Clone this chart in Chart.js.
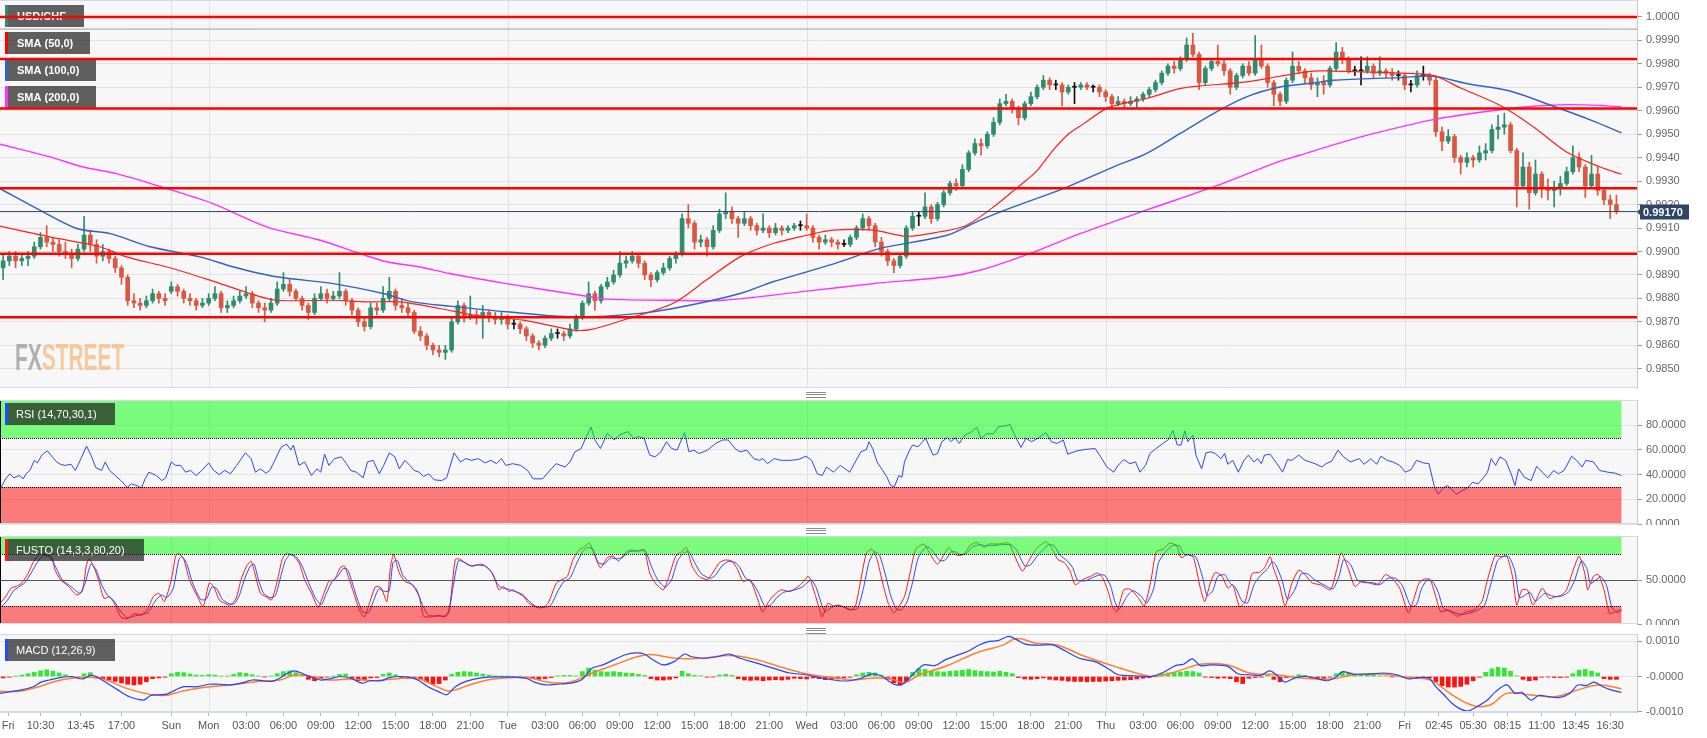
<!DOCTYPE html>
<html>
<head>
<meta charset="utf-8">
<title>USD/CHF</title>
<script src="https://cdn.jsdelivr.net/npm/chart.js@4.4.0/dist/chart.umd.min.js"></script>
<style>
  html, body { margin: 0; padding: 0; background: #fff; }
  #wrap { position: relative; width: 1707px; height: 738px; overflow: hidden; }
  .pane { position: absolute; left: 0; width: 1707px; }
  .pane canvas { display: block; }
  .grip { position: absolute; left: 806px; width: 20px; height: 4px; border-top: 1px solid #8a8a8a; border-bottom: 1px solid #8a8a8a; }
  .grip:after { content: ''; position: absolute; left: 0; right: 0; top: 1px; border-top: 1px solid #8a8a8a; }
</style>
</head>
<body>
<div id="wrap">
  <div class="pane" style="top:0;height:389px"><canvas id="cMain"></canvas></div>
  <div class="grip" style="top:392px"></div>
  <div class="pane" style="top:400px;height:125px"><canvas id="cRsi"></canvas></div>
  <div class="grip" style="top:528px"></div>
  <div class="pane" style="top:536px;height:89px"><canvas id="cSto"></canvas></div>
  <div class="grip" style="top:628px"></div>
  <div class="pane" style="top:634px;height:104px"><canvas id="cMacd"></canvas></div>
</div>
<script>
// ---- data (30 min candles, x = slot index since Fri 07:30, weekend removed) ----
const timeTicks = [[1.3,'Fri'],[6.5,'10:30'],[13,'13:45'],[19.5,'17:00'],[27.5,'Sun'],[33.5,'Mon'],[39.5,'03:00'],[45.5,'06:00'],[51.5,'09:00'],[57.5,'12:00'],[63.5,'15:00'],[69.5,'18:00'],[75.5,'21:00'],[81.5,'Tue'],[87.5,'03:00'],[93.5,'06:00'],[99.5,'09:00'],[105.5,'12:00'],[111.5,'15:00'],[117.5,'18:00'],[123.5,'21:00'],[129.5,'Wed'],[135.5,'03:00'],[141.5,'06:00'],[147.5,'09:00'],[153.5,'12:00'],[159.5,'15:00'],[165.5,'18:00'],[171.5,'21:00'],[177.5,'Thu'],[183.5,'03:00'],[189.5,'06:00'],[195.5,'09:00'],[201.5,'12:00'],[207.5,'15:00'],[213.5,'18:00'],[219.5,'21:00'],[225.5,'Fri'],[231,'02:45'],[236.5,'05:30'],[242,'08:15'],[247.5,'11:00'],[253,'13:45'],[258.5,'16:30']];
const dayLines = [27.5, 33.5, 81.5, 129.5, 177.5, 225.5];

const priceTicks = [0.9850,0.9860,0.9870,0.9880,0.9890,0.9900,0.9910,0.9920,0.9930,0.9940,0.9950,0.9960,0.9970,0.9980,0.9990,1.0000];
const levels = [1.0000, 0.9982, 0.9961, 0.9927, 0.9899, 0.9872];
const periodHigh = 0.99948;
const lastPrice = 0.99170;

// [open, high, low, close]
const ohlc = [
[0.9893,0.9899,0.9888,0.9896],[0.9896,0.9900,0.9894,0.9898],[0.9898,0.9900,0.9893,0.9896],[0.9896,0.9899,0.9894,0.9897],[0.9897,0.9900,0.9894,0.9898],
[0.9898,0.9904,0.9897,0.9902],[0.9902,0.9908,0.9901,0.9906],[0.9906,0.9911,0.9902,0.9904],[0.9904,0.9906,0.9900,0.9903],[0.9903,0.9905,0.9898,0.9900],
[0.9900,0.9904,0.9897,0.9899],[0.9899,0.9901,0.9893,0.9897],[0.9897,0.9903,0.9896,0.9901],[0.9901,0.9915,0.9900,0.9907],[0.9907,0.9909,0.9900,0.9903],
[0.9903,0.9905,0.9895,0.9898],[0.9898,0.9903,0.9896,0.9900],[0.9900,0.9901,0.9895,0.9897],[0.9897,0.9898,0.9891,0.9893],[0.9893,0.9894,0.9886,0.9889],
[0.9889,0.9890,0.9877,0.9879],[0.9879,0.9882,0.9876,0.9878],[0.9878,0.9880,0.9875,0.9877],[0.9877,0.9881,0.9876,0.9879],[0.9879,0.9884,0.9878,0.9882],
[0.9882,0.9883,0.9878,0.9880],[0.9880,0.9882,0.9877,0.9879],[0.9883,0.9887,0.9882,0.9885],[0.9885,0.9886,0.9881,0.9883],[0.9883,0.9884,0.9878,0.9880],
[0.9880,0.9882,0.9877,0.9879],[0.9879,0.9880,0.9875,0.9877],[0.9877,0.9880,0.9876,0.9878],[0.9878,0.9882,0.9877,0.9880],[0.9880,0.9885,0.9879,0.9882],
[0.9882,0.9883,0.9874,0.9876],[0.9876,0.9879,0.9874,0.9877],[0.9877,0.9881,0.9876,0.9879],[0.9879,0.9883,0.9878,0.9881],[0.9881,0.9885,0.9880,0.9882],
[0.9882,0.9883,0.9876,0.9878],[0.9878,0.9879,0.9874,0.9876],[0.9876,0.9878,0.9870,0.9875],[0.9875,0.9880,0.9874,0.9878],[0.9878,0.9887,0.9877,0.9884],
[0.9884,0.9891,0.9883,0.9886],[0.9886,0.9888,0.9881,0.9883],[0.9883,0.9884,0.9879,0.9880],[0.9880,0.9881,0.9875,0.9877],[0.9877,0.9878,0.9871,0.9874],
[0.9874,0.9882,0.9873,0.9880],[0.9880,0.9885,0.9879,0.9882],[0.9882,0.9884,0.9878,0.9880],[0.9880,0.9883,0.9879,0.9881],[0.9881,0.9891,0.9880,0.9883],
[0.9883,0.9884,0.9877,0.9879],[0.9879,0.9880,0.9873,0.9875],[0.9875,0.9876,0.9868,0.9870],[0.9870,0.9872,0.9866,0.9868],[0.9868,0.9878,0.9867,0.9876],
[0.9876,0.9878,0.9873,0.9875],[0.9875,0.9885,0.9874,0.9880],[0.9880,0.9889,0.9879,0.9883],[0.9883,0.9884,0.9875,0.9877],[0.9877,0.9880,0.9874,0.9876],
[0.9876,0.9878,0.9872,0.9874],[0.9874,0.9875,0.9865,0.9866],[0.9866,0.9868,0.9862,0.9864],[0.9864,0.9865,0.9858,0.9860],[0.9860,0.9861,0.9856,0.9858],
[0.9858,0.9860,0.9855,0.9857],[0.9857,0.9860,0.9854,0.9858],[0.9858,0.9872,0.9857,0.9870],[0.9870,0.9879,0.9869,0.9877],[0.9877,0.9878,0.9870,0.9872],
[0.9872,0.9881,0.9871,0.9873],[0.9873,0.9875,0.9869,0.9872],[0.9872,0.9877,0.9863,0.9874],[0.9874,0.9875,0.9870,0.9872],[0.9872,0.9874,0.9869,0.9871],
[0.9871,0.9874,0.9869,0.9872],[0.9872,0.9873,0.9867,0.9869],[0.9869,0.9871,0.9867,0.9869],[0.9869,0.9870,0.9865,0.9867],[0.9867,0.9868,0.9862,0.9864],
[0.9864,0.9865,0.9859,0.9861],[0.9861,0.9862,0.9858,0.9860],[0.9860,0.9864,0.9859,0.9863],[0.9863,0.9867,0.9862,0.9865],[0.9865,0.9867,0.9863,0.9865],
[0.9865,0.9866,0.9862,0.9864],[0.9864,0.9869,0.9863,0.9867],[0.9867,0.9873,0.9866,0.9872],[0.9872,0.9879,0.9871,0.9878],[0.9878,0.9887,0.9877,0.9882],
[0.9882,0.9883,0.9875,0.9879],[0.9879,0.9886,0.9878,0.9885],[0.9885,0.9889,0.9884,0.9887],[0.9887,0.9892,0.9886,0.9890],[0.9890,0.9900,0.9889,0.9895],
[0.9895,0.9898,0.9893,0.9896],[0.9896,0.9900,0.9895,0.9898],[0.9898,0.9899,0.9893,0.9895],[0.9895,0.9896,0.9888,0.9890],[0.9890,0.9891,0.9885,0.9888],
[0.9888,0.9892,0.9887,0.9891],[0.9891,0.9895,0.9890,0.9893],[0.9893,0.9898,0.9892,0.9897],[0.9897,0.9900,0.9895,0.9899],[0.9899,0.9916,0.9898,0.9914],
[0.9914,0.9920,0.9910,0.9912],[0.9912,0.9913,0.9901,0.9904],[0.9904,0.9907,0.9902,0.9905],[0.9905,0.9906,0.9898,0.9902],[0.9902,0.9911,0.9901,0.9909],
[0.9909,0.9918,0.9908,0.9916],[0.9916,0.9925,0.9914,0.9917],[0.9917,0.9919,0.9912,0.9914],[0.9914,0.9915,0.9906,0.9912],[0.9912,0.9917,0.9911,0.9914],
[0.9914,0.9915,0.9909,0.9911],[0.9911,0.9912,0.9907,0.9909],[0.9909,0.9916,0.9908,0.9910],[0.9910,0.9911,0.9906,0.9908],[0.9908,0.9912,0.9907,0.9910],
[0.9910,0.9911,0.9907,0.9909],[0.9909,0.9911,0.9908,0.9910],[0.9910,0.9912,0.9909,0.9911],[0.9911,0.9913,0.9909,0.9911],[0.9911,0.9916,0.9909,0.9910],
[0.9910,0.9911,0.9904,0.9906],[0.9906,0.9907,0.9901,0.9904],[0.9904,0.9907,0.9903,0.9905],[0.9905,0.9906,0.9902,0.9904],[0.9904,0.9905,0.9901,0.9903],
[0.9903,0.9905,0.9902,0.9903],[0.9903,0.9907,0.9902,0.9906],[0.9906,0.9911,0.9905,0.9910],[0.9910,0.9916,0.9909,0.9914],[0.9914,0.9915,0.9909,0.9911],
[0.9911,0.9912,0.9902,0.9904],[0.9904,0.9906,0.9898,0.9900],[0.9900,0.9901,0.9894,0.9896],[0.9896,0.9897,0.9891,0.9894],[0.9894,0.9899,0.9893,0.9898],
[0.9898,0.9911,0.9897,0.9910],[0.9910,0.9917,0.9909,0.9915],[0.9915,0.9917,0.9911,0.9915],[0.9915,0.9925,0.9914,0.9919],[0.9919,0.9920,0.9912,0.9914],
[0.9914,0.9921,0.9913,0.9920],[0.9920,0.9926,0.9919,0.9925],[0.9925,0.9930,0.9924,0.9929],[0.9929,0.9931,0.9926,0.9928],[0.9928,0.9937,0.9927,0.9935],
[0.9935,0.9943,0.9934,0.9942],[0.9942,0.9948,0.9941,0.9946],[0.9946,0.9948,0.9941,0.9945],[0.9945,0.9951,0.9944,0.9950],[0.9950,0.9957,0.9949,0.9955],
[0.9955,0.9965,0.9954,0.9963],[0.9963,0.9967,0.9962,0.9964],[0.9964,0.9965,0.9959,0.9961],[0.9961,0.9962,0.9954,0.9957],[0.9957,0.9964,0.9956,0.9963],
[0.9963,0.9968,0.9962,0.9966],[0.9966,0.9971,0.9965,0.9970],[0.9970,0.9975,0.9969,0.9973],[0.9973,0.9974,0.9969,0.9971],[0.9971,0.9973,0.9969,0.9971],
[0.9971,0.9972,0.9962,0.9968],[0.9968,0.9971,0.9967,0.9970],[0.9970,0.9972,0.9963,0.9970],[0.9970,0.9972,0.9969,0.9971],[0.9971,0.9972,0.9969,0.9970],
[0.9970,0.9971,0.9968,0.9970],[0.9970,0.9971,0.9966,0.9968],[0.9968,0.9969,0.9964,0.9966],[0.9966,0.9967,0.9961,0.9963],[0.9963,0.9966,0.9962,0.9964],
[0.9964,0.9965,0.9961,0.9963],[0.9963,0.9966,0.9962,0.9964],[0.9964,0.9966,0.9961,0.9965],[0.9965,0.9968,0.9964,0.9967],[0.9967,0.9970,0.9966,0.9969],
[0.9969,0.9973,0.9968,0.9972],[0.9972,0.9977,0.9971,0.9976],[0.9976,0.9980,0.9975,0.9979],[0.9979,0.9981,0.9976,0.9978],[0.9978,0.9983,0.9977,0.9982],
[0.9982,0.9991,0.9981,0.9988],[0.9988,0.9993,0.9983,0.9984],[0.9984,0.9985,0.9969,0.9972],[0.9972,0.9979,0.9971,0.9978],[0.9978,0.9982,0.9977,0.9981],
[0.9981,0.9988,0.9979,0.9980],[0.9980,0.9982,0.9975,0.9977],[0.9977,0.9978,0.9967,0.9970],[0.9970,0.9976,0.9969,0.9975],[0.9975,0.9980,0.9974,0.9979],
[0.9979,0.9981,0.9975,0.9976],[0.9976,0.9992,0.9975,0.9982],[0.9982,0.9988,0.9978,0.9979],[0.9979,0.9980,0.9970,0.9972],[0.9972,0.9973,0.9962,0.9967],
[0.9967,0.9968,0.9962,0.9964],[0.9964,0.9974,0.9963,0.9973],[0.9973,0.9985,0.9972,0.9979],[0.9979,0.9981,0.9976,0.9977],[0.9977,0.9978,0.9972,0.9974],
[0.9974,0.9976,0.9969,0.9971],[0.9971,0.9974,0.9966,0.9972],[0.9972,0.9975,0.9967,0.9971],[0.9971,0.9979,0.9970,0.9978],[0.9978,0.9989,0.9977,0.9985],
[0.9985,0.9987,0.9980,0.9982],[0.9982,0.9983,0.9976,0.9977],[0.9977,0.9979,0.9975,0.9977],[0.9977,0.9983,0.9971,0.9977],[0.9977,0.9983,0.9976,0.9979],
[0.9979,0.9980,0.9974,0.9976],[0.9976,0.9983,0.9975,0.9977],[0.9977,0.9978,0.9974,0.9976],[0.9976,0.9978,0.9973,0.9975],[0.9975,0.9977,0.9973,0.9975],
[0.9975,0.9976,0.9969,0.9971],[0.9971,0.9973,0.9968,0.9971],[0.9971,0.9977,0.9970,0.9975],[0.9975,0.9979,0.9973,0.9975],[0.9975,0.9976,0.9971,0.9973],
[0.9973,0.9975,0.9949,0.9951],[0.9951,0.9953,0.9943,0.9947],[0.9947,0.9952,0.9946,0.9949],[0.9949,0.9950,0.9938,0.9940],[0.9940,0.9941,0.9933,0.9938],
[0.9938,0.9942,0.9936,0.9940],[0.9940,0.9941,0.9936,0.9939],[0.9939,0.9945,0.9938,0.9942],[0.9942,0.9946,0.9939,0.9943],[0.9943,0.9954,0.9942,0.9952],
[0.9952,0.9958,0.9948,0.9953],[0.9953,0.9959,0.9950,0.9954],[0.9954,0.9955,0.9942,0.9943],[0.9943,0.9944,0.9919,0.9928],[0.9928,0.9942,0.9927,0.9936],
[0.9936,0.9938,0.9918,0.9925],[0.9925,0.9939,0.9924,0.9933],[0.9933,0.9934,0.9923,0.9927],[0.9927,0.9931,0.9922,0.9926],[0.9926,0.9930,0.9919,0.9927],
[0.9927,0.9932,0.9924,0.9929],[0.9929,0.9936,0.9928,0.9934],[0.9934,0.9945,0.9933,0.9940],[0.9940,0.9942,0.9934,0.9936],[0.9936,0.9937,0.9923,0.9928],
[0.9928,0.9941,0.9927,0.9933],[0.9933,0.9936,0.9924,0.9926],[0.9926,0.9927,0.9920,0.9922],[0.9922,0.9924,0.9914,0.9920],[0.9920,0.9924,0.9916,0.9917]
];

// moving averages read at [slot, price]
const sma50 = [[0,0.99108],[8,0.99062],[16,0.9902],[20.3,0.98977],[26.8,0.98934],[33.7,0.98878],[40.1,0.98821],[44.4,0.98792],[53.5,0.98792],[58.9,0.98785],[64.2,0.98785],[70.6,0.98757],[76,0.98729],[84,0.98707],[92,0.98665],[95,0.98668],[100,0.98707],[108,0.98778],[113.4,0.98878],[118.8,0.98977],[124.1,0.99034],[129.5,0.99069],[133.7,0.99091],[140.2,0.99091],[145.5,0.99065],[150.9,0.99084],[155.2,0.99112],[160,0.9920],[163.2,0.9927],[166.5,0.99345],[169,0.9943],[171.5,0.9950],[174,0.99545],[177.6,0.99609],[181,0.99635],[184,0.99652],[189.4,0.99694],[192.1,0.99704],[200.1,0.99723],[205.5,0.99747],[210.8,0.99769],[214,0.99769],[224.8,0.9976],[230.1,0.9975],[234.4,0.99698],[240.8,0.99623],[246.2,0.99531],[251.5,0.99424],[256.9,0.9936],[260.3,0.99329]];
const sma100 = [[0,0.99268],[6.4,0.99176],[12.3,0.99098],[17.7,0.99076],[24.1,0.9902],[32.1,0.98977],[37.5,0.98934],[44.4,0.98892],[53.5,0.98863],[61.5,0.98821],[66.3,0.98785],[72.2,0.98767],[81.3,0.98743],[92,0.98721],[102.7,0.98736],[110.7,0.98771],[118.8,0.98821],[124.1,0.98871],[129.5,0.98913],[134.8,0.98956],[141.3,0.99013],[152,0.99069],[157.3,0.99133],[162.7,0.9919],[170.7,0.99268],[178.7,0.9936],[184,0.99417],[189.4,0.99502],[194.8,0.99588],[200.1,0.99659],[205.5,0.99701],[210.8,0.99718],[214,0.9973],[224.8,0.99741],[230.1,0.99747],[235.4,0.99716],[242.4,0.99684],[249.4,0.99619],[255.8,0.99556],[260.3,0.99506]];
const sma200 = [[0,0.99457],[8,0.99403],[13.4,0.9936],[18.7,0.99332],[26.8,0.99268],[34.2,0.99204],[42.8,0.99105],[51.4,0.99048],[57.8,0.98991],[62.1,0.98956],[67.4,0.98934],[72.2,0.98906],[81.3,0.98863],[94.7,0.98807],[97.4,0.98797],[108,0.98792],[116.1,0.98792],[129.5,0.98831],[141.3,0.98866],[152,0.98892],[157.3,0.9892],[165.3,0.98991],[173.4,0.99076],[184,0.99176],[194.8,0.99275],[205.5,0.99385],[208.7,0.9941],[213.5,0.9945],[219.4,0.99495],[230.1,0.99562],[240.8,0.99604],[246.2,0.99619],[251.5,0.99626],[256.9,0.99623],[260.3,0.99616]];

// RSI (14) read at [slot, value]
const rsiTicks = [0, 20, 40, 60, 80];
const rsi = [[0,28],[0.9,36.6],[1.6,40.7],[2.2,37.4],[3.1,39.3],[3.7,36.6],[4.2,40.7],[4.8,43.4],[5.5,51.6],[6,49.5],[6.7,55.8],[7.6,59.3],[8.4,54.4],[9.1,50.3],[9.7,48.4],[10.4,47.5],[11.4,48.4],[12.1,43.4],[13,53],[13.9,63.2],[14.6,55.8],[15.4,45.6],[16.3,43.4],[16.9,50.3],[17.6,43.4],[18.5,39.3],[19.4,35.2],[20.4,29.7],[21.1,32.5],[22,31.1],[22.7,29.2],[23.3,36.6],[23.9,42],[25.1,39.3],[26,35.2],[26.6,37.4],[27.5,50.3],[28.2,47.5],[29,47.5],[29.8,42],[30.6,43.4],[31.5,39.3],[32.4,43.4],[33.5,49.5],[34.3,43.4],[35.2,40.1],[36.1,43.4],[37,40.7],[38,47.5],[39.4,57.7],[40.3,53],[41,42],[41.8,44.7],[42.7,41.2],[43.3,43.4],[44,50.3],[45.1,62.1],[46,64.8],[46.7,59.9],[47.1,64],[48,47.5],[48.9,50.3],[50,39.3],[50.9,44.7],[51.5,42],[52.1,56.6],[52.8,47.5],[53.7,53],[54.8,54.4],[55.6,49],[56.3,43.4],[57.2,42],[58.3,37.4],[59,50.3],[59.9,51.6],[60.9,40.7],[61.6,47.5],[62.5,57.7],[63.4,54.4],[64.1,44.7],[65,51.6],[65.8,47.5],[66.5,43.4],[67.3,42],[68,38.5],[68.8,40.7],[69.7,35.8],[70.9,35.2],[71.7,37.4],[72.9,57.7],[73.9,50.3],[74.8,53],[75.7,51.6],[76.8,53],[77.9,49.5],[78.8,51.6],[79.7,48.9],[80.5,53],[81.2,47.5],[82.3,48.9],[83.6,47.5],[84.7,43.4],[85.6,36.6],[87.1,36.6],[88.5,44.7],[89.3,48.9],[90.7,46.2],[91.5,50.3],[92.3,58.5],[93.3,61.2],[94,69.5],[94.9,78.5],[95.5,68.1],[96.4,61.2],[97.5,73.6],[98.6,68.1],[99.5,72.2],[100.8,74.9],[101.7,69.5],[102.5,70.8],[103.4,69.5],[104.3,55.8],[105.2,54.4],[106.1,58.5],[107,66.7],[107.8,61.2],[108.7,59.9],[109.9,74.1],[110.6,58.5],[111.4,59.9],[112.2,57.1],[113.6,59.9],[114.9,65.3],[116,68.1],[116.9,68.1],[118,61.2],[118.8,58.5],[119.9,59.9],[121,53],[121.9,51.6],[122.5,53],[123.2,48.9],[124.3,53],[125.4,51.6],[126.8,51.6],[128.1,52.2],[129.4,54.9],[130.3,51.6],[131.2,40.7],[132,39.3],[132.7,46.2],[133.8,42],[134.9,47.5],
[136.4,42],[137.3,50.3],[138.2,58.5],[139.1,60.4],[139.5,66.7],[140.1,61.2],[140.8,50.3],[141.7,43.4],[142.4,37.9],[143,31.1],[143.6,30.3],[144.3,39.3],[144.8,37.9],[145.2,50.3],[145.9,58.5],[146.5,64],[147.4,62.6],[148.6,69.5],[149.2,62.6],[149.8,55.8],[150.5,57.1],[151.2,66.7],[152.1,70],[152.7,66.7],[153.3,70],[154,65.3],[154.9,72.2],[155.8,74.1],[156.8,78.2],[157.5,69.5],[158.4,73.1],[159.5,73.1],[160.3,79],[161.5,79.6],[162.1,81],[162.8,73.1],[163.9,62.1],[164.7,69.5],[165.6,66.7],[166.8,70],[167.9,74.1],[168.8,66.7],[169.7,65.3],[170.7,68.1],[171.4,56.6],[172.9,59.3],[174.2,60.4],[175.8,61.2],[176.7,54.4],[177.7,46.2],[178.8,42],[179.5,47.5],[180.4,52.2],[181.4,48.9],[182.3,50.3],[183,42],[183.9,47.5],[184.6,57.1],[185.6,61.2],[186.7,65.3],[187.6,68.6],[188.3,75.8],[189,64],[189.6,64],[190.2,75.5],[190.7,66.7],[191.5,72.2],[192,55.8],[192.9,44.7],[193.6,57.7],[194.4,58.5],[195.1,57.1],[196,53],[196.6,57.1],[197.1,48.4],[197.9,51.6],[198.8,42],[199.7,51.6],[200.4,55.8],[201.3,50.3],[201.9,53],[202.5,48.9],[203,55.8],[203.9,56.6],[205,48.9],[205.9,42],[206.7,52.2],[207.4,51.6],[208.5,55.8],[209.5,51.6],[211.1,48.9],[212.2,46.2],[212.9,48.9],[213.8,51],[214.8,59.9],[215.7,54.4],[216.8,50.3],[218.2,53],[219,48.4],[220.1,53],[221,48.4],[221.7,54.9],[222.7,51.6],[223.6,50.3],[224.7,47.5],[225.6,42],[226.5,44],[227.4,51.6],[228.5,49.5],[229.4,48.9],[230.3,29.7],[230.9,24.2],[231.8,29.7],[232.4,31.1],[233.1,27.5],[233.8,24.2],[234.7,27],[235.6,29.2],[236.4,33.8],[237.3,32.5],[238.2,37.9],[238.8,42],[239.4,53],[240.1,47.5],[240.8,54.4],[241.7,51.6],[242.6,40.7],[243.2,31.1],[243.8,44.7],[244.7,37.9],[245.8,35.2],[246.7,46.8],[247.6,42],[248.5,37.4],[249.4,43.4],[250.2,40.7],[251.1,43.4],[252.3,54.9],[253.1,51.6],[254,46.2],[254.6,51.6],[255.8,50.3],[256.8,43.4],[258.1,42],[259.3,41.2],[260.3,39.3]];

// Full stochastic (14,3,3): %K red, %D blue, [slot, value]
const stoTicks = [0, 50];
const stoK = [[0,23.5],[0.9,31],[1.8,40.8],[2.6,42.7],[3.5,46.5],[4.4,56],[5.3,69.6],[6,76.5],[6.6,80.4],[7.5,79],[8.4,75],[8.8,62],[9.7,50.4],[11,42.7],[12.3,33],[13.2,37],[13.9,67.7],[14.3,74],[15,66],[15.8,50.4],[16.7,29],[17.6,31],[18.5,21.5],[19.4,8],[20.4,6],[21.6,12],[22.7,10],[23.6,15.8],[24.6,31],[25.5,35],[26.4,25.4],[27.5,50.4],[28.2,77.3],[28.6,80.4],[29.5,73.5],[30.4,50.4],[31.7,31],[32.6,19.6],[33.6,46.5],[34.3,42.7],[35.2,27.3],[36.1,23.5],[37,21.5],[37.9,29],[38.7,50.4],[39.6,65.8],[40.3,71.5],[40.9,58],[41.8,35],[42.7,31],[43.6,27.3],[44.5,48.5],[45.3,73.5],[46,80.4],[47.1,77.3],[48,69.6],[48.9,50.4],[50,35],[51.1,18.7],[51.9,33],[52.8,48.5],[53.7,50.4],[54.6,63.8],[55.3,65.8],[55.9,54.2],[56.8,35],[57.7,15.8],[58.5,8],[59.4,25.4],[60.3,42.7],[61.2,40.8],[62.1,25.4],[62.7,65.8],[63.2,79],[64.1,58],[65,48.5],[66.2,44.6],[67.3,31],[68,8.8],[69.1,8],[70.4,10],[71.5,8],[72.2,19.6],[73.1,73.5],[73.9,73.5],[75,67.7],[75.9,65.8],[76.8,67.7],[77.5,67.7],[78.3,63.8],[79.2,56],[80.1,38.8],[80.8,42.7],[81.7,37],[82.3,38.8],[83.2,35],[84.1,31],[84.9,23.5],[86.3,18.7],[87.1,18.7],[88,23.5],[89.3,46.5],[90.2,50.4],[91.1,54.2],[92,73.5],[93.1,85],[93.7,87],[94.6,92],[95.5,77.3],[96.4,63.8],[97.5,75.4],[98.4,77.3],[99.3,71.5],[100.4,81],[101.2,84.2],[102.5,83],[103.4,85],[104.3,58],[105.2,46.5],[106.5,38.8],[107.4,54.2],[108.5,77.3],[109.6,83],[110.2,87],[111.1,65.8],[112.2,54.2],[113.6,50.4],[114.4,58],[115.5,69.6],[116.4,72.7],[117.5,71.5],[118.4,62],[119.3,48.5],[120.4,50.4],[121.5,31],[122.4,13.8],[123.4,25.4],[124.3,33],[125.4,38.8],[126.8,37],[128.5,44.6],[129.8,54.2],[130.7,37],[131.6,15.8],[132,8],[132.9,23.5],[133.8,20.4],[134.7,21.5],[135.6,18.8],
[136.4,15.8],[137.3,19.6],[138.2,50.4],[139.1,81],[140,85],[140.8,73.5],[141.7,46.5],[142.6,23.5],[143.5,12.7],[144.3,19.6],[145.2,31],[146.1,58],[147,85],[148.3,90.8],[149.2,81],[150.5,67.7],[151.4,77.3],[152.3,87],[153,81],[153.8,78],[154.7,79],[155.8,89.6],[156.8,92.7],[158,87],[158.8,90.8],[160.2,90.8],[161.9,92],[162.8,79],[164.1,60],[165,69.6],[166.3,85],[167.9,93.5],[168.8,87],[169.8,73.5],[170.9,69.6],[171.8,60],[172.6,44.6],[173.8,50.4],[175.1,54.2],[176.2,58],[177,52.7],[177.9,37],[178.6,19.6],[179.3,13.8],[180.4,38.8],[181.4,39.6],[182.6,31],[183.7,20.4],[184.8,50.4],[185.6,82],[186.7,85],[187.8,92],[188.9,88.8],[189.6,75.4],[190.7,79],[191.6,75.4],[192.7,40.8],[193.4,25.4],[194.3,46.5],[195.1,58.8],[196.2,54.2],[197.1,40.8],[197.9,44.6],[199,19.6],[199.9,25.4],[201,57.3],[202.2,58.8],[203,63.8],[203.9,76.5],[204.5,62],[205.4,44.6],[206.3,20.4],[207.4,46.5],[208.5,61.2],[209.5,56.2],[210.7,46.5],[212,44.6],[213.6,38.8],[214.6,62],[215.3,81],[216.4,63.8],[217.5,42.7],[218.6,48.5],[219.9,46.5],[221.2,44.6],[222.4,56.2],[223.6,51.2],[224.7,40.8],[226.1,12.7],[227,29],[227.8,46.5],[228.7,51.2],[229.6,50.4],[230.5,31],[231.3,13.8],[232.4,15.8],[234,8.8],[235.3,13.8],[236.6,15.8],[237.9,25.4],[238.8,50.4],[240,77.3],[241,76.5],[241.9,77.3],[242.8,54.2],[243.5,21.5],[244.3,38.8],[245.2,38.8],[246.1,21.5],[247.6,40.8],[248.7,29],[249.8,31],[250.7,33],[251.5,38.8],[252.4,58],[253.5,77.3],[254.4,58],[254.9,38.8],[255.8,54.2],[256.6,56.2],[257.5,38.8],[258.4,12],[259.3,13.8],[260.3,16.5]];
const stoD = [[0,18],[1.2,27],[2.2,38],[3,42],[4,47],[5,58],[6,70],[7,78],[8,76],[9,64],[10,50],[11.5,42],[12.8,35],[13.6,45],[14.6,68],[15.4,62],[16.3,45],[17.2,33],[18.2,27],[19.2,16],[20.4,7],[21.5,9],[22.8,11],[23.8,13],[24.9,26],[25.9,33],[26.8,30],[27.8,40],[28.7,73],[29.2,77],[30,68],[30.9,47],[32.2,28],[33.1,28],[34,42],[34.8,40],[35.7,28],[36.8,23],[37.6,23],[38.4,32],[39.3,52],[40.2,66],[40.8,68],[41.5,50],[42.3,35],[43.3,30],[44.2,32],[45,52],[45.8,72],[46.6,79],[47.6,76],[48.5,66],[49.5,48],[50.6,30],[51.6,22],[52.4,35],[53.3,48],[54.2,54],[55.1,63],[55.8,62],[56.5,48],[57.3,30],[58.2,14],[59.2,13],[60,27],[60.8,40],[61.7,37],[62.5,38],[63.1,70],[63.8,72],[64.7,55],[65.8,47],[66.8,40],[67.8,22],[68.8,10],[70.2,9],[71.3,9],[72,12],[72.8,45],[73.6,72],[74.6,70],[75.6,66],[76.6,67],[77.8,66],[78.8,60],[79.8,46],[80.6,41],[81.4,40],[82.2,38],[83.1,36],[84,33],[84.8,27],[86,20],[87.4,19],[88.4,21],[89.6,38],[90.5,48],[91.5,52],[92.4,66],[93.5,82],[94.3,87],[95.2,85],[96,70],[97,68],[98,75],[99,74],[100,76],[101,82],[102.5,83],[103.6,83],[104.6,65],[105.6,50],[106.8,42],[107.8,50],[108.8,72],[109.8,81],[110.6,82],[111.5,70],[112.6,57],[114,52],[114.8,55],[115.9,66],[116.9,71],[118,70],[118.8,64],[119.7,52],[120.8,47],[121.8,35],[122.8,20],[123.8,22],[124.7,30],[125.8,36],[127.2,38],[128.8,42],[130.2,50],[131,42],[132,20],[132.5,14],[133.3,18],[134.2,21],[135.1,20],[136,18],[136.8,16],[137.7,18],[138.6,40],[139.5,70],[140.4,82],[141.2,78],[142.1,57],[143,32],[143.9,17],[144.7,16],[145.6,25],[146.5,47],[147.4,75],[148.7,88],[149.6,84],[150.9,72],[151.8,73],[152.7,82],[153.4,82],[154.2,79],[155.1,80],[156.2,88],[157.2,90],[158.4,89],[159.2,89],[160.6,90],[162.3,90],[163.2,84],[164.5,66],[165.4,67],[166.7,79],[168.3,90],[169.2,89],[170.2,78],[171.3,72],[172.2,64],[173,50],[174.2,49],[175.5,53],[176.6,56],[177.4,55],[178.3,43],[179,25],[179.7,17],[180.8,30],[181.8,38],[183,33],[184.1,24],[185.2,40],[186,70],[187.1,82],[188.2,89],[189.3,89],[190,80],[191.1,78],[192,76],[193.1,52],[193.8,32],[194.7,38],[195.5,54],[196.6,56],[197.5,46],[198.3,42],[199.4,26],[200.3,24],[201.4,46],[202.6,57],[203.4,62],[204.3,71],[204.9,66],[205.8,50],[206.7,28],[207.8,38],[208.9,57],[209.9,57],[211.1,50],[212.4,45],[214,40],[215,55],[215.7,73],[216.8,68],[217.9,50],[219,47],[220.3,47],[221.6,45],[222.8,52],[224,52],[225.1,44],[226.5,20],[227.4,22],[228.2,40],[229.1,50],[230,48],[230.9,36],[231.7,18],[232.8,15],[234.4,11],[235.7,12],[237,15],[238.3,21],[239.2,42],[240.4,72],[241.4,77],[242.3,76],[243.2,60],[243.9,30],[244.7,32],[245.6,36],[246.5,26],[248,35],[249.1,32],[250.2,31],[251.1,33],[251.9,37],[252.8,50],[253.9,72],[254.8,62],[255.3,46],[256.2,50],[257,54],[257.9,44],[258.8,18],[259.7,13],[260.3,15]];

// MACD (12,26,9): line, signal as [slot, value]; histogram one value per candle
const macdTicks = [-0.001, 0, 0.001];
const macdLine = [[0,-0.00048],[1.8,-0.00043],[3.5,-0.00038],[5.3,-0.00029],[6.6,-0.00016],[7.9,-0.0001],[9.7,-0.00003],[11.4,0],[13.2,-0.00007],[14.5,0.00003],[15.4,0],[17.2,-0.00019],[18.9,-0.00038],[20.7,-0.00057],[22,-0.00064],[23.1,-0.00067],[24.2,-0.00054],[25.5,-0.00052],[26.8,-0.0005],[28.2,-0.00038],[29.5,-0.00029],[31.7,-0.00029],[33.5,-0.00022],[35.2,-0.00022],[37,-0.00024],[38.7,-0.00019],[40.5,-0.0001],[42.3,-0.00012],[43.6,-0.00014],[44.9,-0.00005],[46.2,0.0001],[47.3,0.00016],[48.4,0.0001],[49.7,0],[51.5,-0.0001],[52.8,-0.00007],[54.6,0],[56.3,-0.00005],[58.1,-0.00019],[59.4,-0.00012],[61.2,-0.00012],[62.5,-0.00003],[64.3,0],[66,-0.00003],[67.3,-0.00012],[68.7,-0.00029],[70.4,-0.00043],[71.7,-0.00052],[73.1,-0.00029],[74.8,-0.00014],[77.5,-0.00003],[80.1,-0.00001],[82.7,-0.00002],[84.5,-0.00005],[85.8,-0.00016],[87.6,-0.00024],[89.3,-0.00022],[91.5,-0.00019],[93.3,-0.0001],[95.1,0.00024],[96.8,0.00033],[98.6,0.00048],[100.4,0.00062],[102.1,0.00067],[103.4,0.00064],[104.8,0.00048],[106.5,0.00033],[108.3,0.00043],[109.9,0.00064],[110.9,0.00057],[113.1,0.00052],[115.3,0.00057],[117.1,0.00064],[118.8,0.00052],[121.5,0.00038],[124.1,0.00024],[126.8,0.0001],[129.4,0.00005],[132,-0.00005],[134.7,-0.00012],[136.4,-0.00012],[138.2,-0.00005],[139.9,0.00007],[141.3,0.00003],[142.6,-0.00012],[143.9,-0.00024],[145.2,-0.00019],[146.5,0.00005],[148.3,0.00033],[150.1,0.00031],[151.8,0.00048],[153.6,0.0006],[155.3,0.00071],[157.1,0.00089],[158.8,0.001],[160.2,0.00102],[161.9,0.00114],[163.2,0.00105],[164.6,0.00092],[166.8,0.00089],[169,0.0009],[171.2,0.00071],[173.3,0.00052],[176,0.00041],[178.2,0.00019],[179.5,0.00005],[182.1,0.00002],[184.8,0],[187,0.00014],[188.7,0.00031],[190,0.00035],[191.4,0.0005],[192.7,0.00031],[194.4,0.00033],[197.1,0.00029],[198.8,0.00007],[200.6,0.00005],[202.3,0.00003],[203.9,0.00016],[205.4,-0.00003],[206.3,-0.00016],[208,-0.00003],[209.8,0],[211.6,-0.00007],[213.1,-0.00012],[214.6,0],[215.5,0.00014],[217.3,0.00007],[219.9,0.00007],[222.1,0.0001],[224.3,0.00005],[226.1,-0.00007],[227.8,-0.00003],[229.4,-0.00005],[230.5,-0.00029],[231.8,-0.00052],[233.1,-0.00076],[234.4,-0.00092],[235.7,-0.00098],[237.1,-0.00086],[238.8,-0.00067],[240.1,-0.00043],[241.9,-0.00024],[243.2,-0.00048],[244.3,-0.00045],[245.8,-0.00067],[247,-0.00054],[248.5,-0.00057],[250.2,-0.0006],[252,-0.00048],[253.3,-0.00024],[254.6,-0.00026],[255.9,-0.00016],[257.3,-0.00029],[258.6,-0.00038],[260.3,-0.00045]];
const macdSignal = [[0,-0.00043],[3.5,-0.00041],[6.2,-0.00029],[8.8,-0.00014],[11.4,-0.00005],[14.1,-0.00002],[16.7,-0.00008],[20.2,-0.00033],[23.8,-0.0005],[26.4,-0.00054],[29,-0.00043],[32.6,-0.00031],[37,-0.00024],[41.4,-0.00014],[44.9,-0.0001],[47.5,0.00005],[50.2,0],[52.8,-0.0001],[56.3,-0.00007],[59.9,-0.00012],[63.4,-0.00007],[66.9,-0.00005],[70.4,-0.00031],[72.2,-0.00041],[75.7,-0.00022],[79.2,-0.00007],[84.5,-0.00003],[88,-0.00016],[91.5,-0.00016],[95.1,0.0001],[98.6,0.00033],[103.9,0.00062],[108.3,0.00052],[112.7,0.00052],[117.1,0.0006],[121.5,0.00048],[125.9,0.00024],[130.3,0.00005],[134.7,-0.00005],[136.4,-0.0001],[139.9,-0.00005],[142.6,-0.00005],[145.2,-0.00016],[147.9,0.00007],[151.8,0.00029],[156.7,0.00067],[161.1,0.0009],[163.2,0.00108],[166.3,0.00095],[169.8,0.00089],[174.2,0.00057],[178.6,0.00031],[183,0.00007],[185.6,0],[189.2,0.00016],[192.7,0.00035],[197.1,0.00033],[200.6,0.0001],[205,0.00005],[209.4,-0.00005],[213.8,-0.00007],[217.3,0.00005],[221.7,0.00007],[226.1,-0.00003],[229.6,-0.0001],[233.1,-0.00052],[236.6,-0.00083],[239.2,-0.00081],[241.9,-0.00048],[245.4,-0.00052],[249.8,-0.00057],[253.3,-0.00038],[256.8,-0.00024],[260.3,-0.00035]];
const macdHist = [
-0.00004,-0.00002,0.00001,0.00004,0.00008,0.00012,0.00016,0.00019,0.00015,0.0001,
0.00005,-0.00001,-0.00002,0.00008,0.00011,-0.00003,-0.00006,-0.0001,-0.00014,-0.00018,
-0.00022,-0.00024,-0.00022,-0.00015,-0.00006,-0.00004,-0.00002,0.00008,0.00012,0.00011,
0.00007,0.00004,0.00003,0.00005,0.00004,0.00001,0.00001,0.00006,0.00011,0.00009,
0.00005,0.00001,-0.00001,0.00001,0.00008,0.00014,0.00016,0.00011,0.00004,-0.00008,
-0.00012,-0.00006,-0.00002,0.00001,0.00006,0.00007,-0.00006,-0.00012,-0.0001,-0.00004,
-0.00003,0.00006,0.0001,0.00005,-0.00003,-0.00005,-0.00004,-0.00008,-0.00015,-0.00022,
-0.0002,-0.0001,0.00006,0.00012,0.00014,0.00013,0.0001,0.00007,0.00004,0.00002,
0.00001,0.00001,-0.00001,0.00001,-0.00003,-0.00006,-0.00008,-0.00006,-0.00003,0.00002,
0.00003,0.00003,0.00002,0.00014,0.00024,0.00018,0.00014,0.00013,0.00014,0.00012,
0.0001,0.00009,0.00006,0.00003,-0.00006,-0.0001,-0.0001,-0.00008,-0.00004,0.00015,
0.00008,0.00003,0.00002,-0.00002,-0.00001,0.00004,0.00006,0.00003,-0.00006,-0.0001,
-0.00011,-0.0001,-0.00012,-0.0001,-0.00009,-0.0001,-0.00008,-0.00005,-0.00006,-0.00007,
-0.00004,-0.00006,-0.00009,-0.00008,-0.00007,-0.00004,-0.00002,0.00005,0.0001,0.00012,
0.0001,0.00004,-0.00008,-0.00018,-0.00024,-0.00015,0.00012,0.00022,0.0002,0.00015,
0.00014,0.00013,0.00015,0.00016,0.00018,0.0002,0.00017,0.00015,0.00014,0.00013,
0.00015,0.00012,0.00008,-0.00003,-0.00007,-0.00008,-0.00006,-0.00004,-0.00008,-0.0001,
-0.00011,-0.00013,-0.00014,-0.00014,-0.00015,-0.00014,-0.00014,-0.00013,-0.00012,-0.00011,
-0.0001,-0.00009,-0.00007,-0.00005,-0.00003,0.00004,0.00008,0.0001,0.00012,0.00013,
0.00015,0.00014,0.0001,-0.00002,-0.00003,-0.00005,-0.00004,-0.00006,-0.00015,-0.0002,
-0.00005,-0.00003,-0.00002,0.00005,-0.00008,-0.00015,-0.00003,0.00001,0.00005,0.00003,
-0.00003,-0.00005,-0.00005,-0.00002,0.00008,0.00012,0.0001,0.00006,0.00005,0.00005,
0.00004,0.00002,0.00001,-0.00001,0.00001,-0.00003,-0.00005,-0.00006,-0.00005,-0.00004,
-0.00015,-0.00026,-0.0003,-0.0003,-0.00028,-0.00022,-0.00012,-0.00002,0.00012,0.00022,
0.00026,0.00024,0.00015,0.00002,-0.00008,-0.00012,-0.0001,-0.00002,-0.00001,-0.00003,
-0.00003,-0.00002,0.00008,0.00018,0.0002,0.00015,0.0001,-0.00006,-0.00008,-0.00008
];

// ---- drawing ----
const FONT = '"Liberation Sans", Arial, sans-serif';
const X_MAX = 262.8;
const AXIS_W = 70;
const UP = '#2f8c6f', DOWN = '#d85842', DOJI = '#111';

Chart.defaults.font.family = FONT;
Chart.defaults.animation = false;
Chart.defaults.events = [];
Chart.defaults.plugins.legend.display = false;
Chart.defaults.plugins.tooltip.enabled = false;

const pts = arr => arr.map(p => ({ x: p[0], y: p[1] }));
const candleColor = r => r[3] > r[0] ? UP : (r[3] < r[0] ? DOWN : DOJI);

function yAxis(min, max, ticks, fmt, gridColor) {
    return {
        position: 'right', min: min, max: max,
        afterBuildTicks: s => { s.ticks = ticks.map(v => ({ value: v })); },
        afterFit: s => { s.width = AXIS_W; s.paddingTop = 0; s.paddingBottom = 0; },
        ticks: { color: '#666', font: { size: 11 }, padding: 4, callback: fmt },
        grid: { color: gridColor, tickLength: 5, tickColor: '#999' },
        border: { color: '#c9c9c9' }
    };
}
const hiddenX = { type: 'linear', min: 0, max: X_MAX, display: false, offset: false };

function drawTag(ctx, x, y, w, text, strip, font, tx) {
    ctx.save();
    ctx.fillStyle = 'rgba(30,30,30,0.7)';
    ctx.fillRect(x, y, w, 22);
    ctx.fillStyle = strip;
    ctx.fillRect(x, y, 3, 22);
    ctx.fillStyle = '#fff';
    ctx.font = font;
    ctx.textBaseline = 'middle';
    ctx.textAlign = 'left';
    ctx.fillText(text, x + tx, y + 11.5);
    ctx.restore();
}

// plot background, day separators, frame
const paneFrame = {
    id: 'paneFrame',
    beforeDraw(chart) {
        const { ctx, chartArea: a } = chart;
        const xs = chart.scales.x;
        ctx.save();
        ctx.fillStyle = '#f7f7f7';
        ctx.fillRect(a.left, a.top, a.right - a.left, a.bottom - a.top);
        ctx.strokeStyle = '#e1e1e1';
        ctx.lineWidth = 1;
        dayLines.forEach(d => {
            const px = Math.round(xs.getPixelForValue(d)) + 0.5;
            ctx.beginPath(); ctx.moveTo(px, a.top); ctx.lineTo(px, a.bottom); ctx.stroke();
        });
        ctx.restore();
    },
    afterDraw(chart) {
        const { ctx, chartArea: a } = chart;
        ctx.save();
        ctx.strokeStyle = '#d3d9e6';
        ctx.lineWidth = 1;
        ctx.beginPath();
        ctx.moveTo(a.left, a.top + 0.5); ctx.lineTo(a.right, a.top + 0.5);
        ctx.moveTo(a.left, a.bottom - 0.5); ctx.lineTo(a.right, a.bottom - 0.5);
        ctx.stroke();
        ctx.restore();
    }
};

// overbought / oversold bands drawn over the lines, then the indicator tag
function bands(hi, lo, endX, tagText, tagW, tagY, strip, midLine) {
    return {
        id: 'bands',
        beforeDatasetsDraw(chart) {
            if (midLine === undefined) return;
            const { ctx, chartArea: a, scales: { y } } = chart;
            const py = Math.round(y.getPixelForValue(midLine)) + 0.5;
            ctx.save();
            ctx.strokeStyle = '#555';
            ctx.lineWidth = 1;
            ctx.beginPath(); ctx.moveTo(a.left, py); ctx.lineTo(a.right, py); ctx.stroke();
            ctx.restore();
        },
        afterDatasetsDraw(chart) {
            const { ctx, chartArea: a, scales: { x, y } } = chart;
            const xr = x.getPixelForValue(endX);
            const yHi = Math.round(y.getPixelForValue(hi));
            const yLo = Math.round(y.getPixelForValue(lo));
            ctx.save();
            ctx.fillStyle = 'rgba(0,255,0,0.5)';
            ctx.fillRect(a.left, a.top, xr - a.left, yHi - a.top);
            ctx.fillStyle = 'rgba(255,0,0,0.5)';
            ctx.fillRect(a.left, yLo, xr - a.left, a.bottom - yLo);
            ctx.strokeStyle = '#000';
            ctx.lineWidth = 1;
            ctx.setLineDash([1, 1]);
            [yHi, yLo].forEach(p => {
                ctx.beginPath(); ctx.moveTo(a.left, p + 0.5); ctx.lineTo(xr, p + 0.5); ctx.stroke();
            });
            ctx.setLineDash([]);
            ctx.beginPath(); ctx.moveTo(a.left + 0.5, a.top); ctx.lineTo(a.left + 0.5, a.bottom); ctx.stroke();
            ctx.restore();
            drawTag(ctx, 5, tagY, tagW, tagText, strip, '11px ' + FONT, 11);
        }
    };
}

// ---- main price chart ----
const mainExtras = {
    id: 'mainExtras',
    beforeDatasetsDraw(chart) {
        const ctx = chart.ctx;
        // watermark
        ctx.save();
        ctx.font = 'bold 37px ' + FONT;
        ctx.textBaseline = 'alphabetic';
        ctx.translate(15, 370);
        ctx.scale(0.565, 1);
        ctx.globalAlpha = 0.85;
        ctx.fillStyle = '#a3a3a3';
        ctx.fillText('FX', 0, 0);
        const w = ctx.measureText('FX').width;
        ctx.fillStyle = '#f4c28f';
        ctx.fillText('STREET', w, 0);
        ctx.restore();
        // series tags
        const f = 'bold 11px ' + FONT;
        drawTag(ctx, 5, 5, 79, 'USD/CHF', '#2f8c6f', f, 12);
        drawTag(ctx, 5, 32, 85, 'SMA (50,0)', '#ff0000', f, 12);
        drawTag(ctx, 5, 59, 91, 'SMA (100,0)', '#2f63c4', f, 12);
        drawTag(ctx, 5, 86, 91, 'SMA (200,0)', '#ff33ff', f, 12);
    },
    afterDraw(chart) {
        const { ctx, chartArea: a, scales: { y } } = chart;
        const py = Math.round(y.getPixelForValue(lastPrice));
        ctx.save();
        ctx.fillStyle = '#2d4566';
        ctx.beginPath();
        ctx.moveTo(a.right, py); ctx.lineTo(a.right + 4, py - 4); ctx.lineTo(a.right + 4, py + 4);
        ctx.closePath(); ctx.fill();
        ctx.fillRect(a.right + 3, py - 7.5, 49, 15);
        ctx.fillStyle = '#fff';
        ctx.font = 'bold 11px ' + FONT;
        ctx.textBaseline = 'middle';
        ctx.fillText(lastPrice.toFixed(5), a.right + 6, py + 0.5);
        ctx.restore();
    }
};

const hLine = (v, color, width, order) => ({
    type: 'line', data: [{ x: 0, y: v }, { x: X_MAX, y: v }],
    borderColor: color, borderWidth: width, pointRadius: 0, order: order
});

new Chart(document.getElementById('cMain'), {
    type: 'bar',
    data: {
        datasets: [
            ...levels.map(v => hLine(v, '#ff0000', 2.5, 0)),
            hLine(periodHigh, '#a0a0a0', 1, 1),
            hLine(lastPrice, '#2d4566', 1, 1),
            { type: 'line', data: pts(sma50), borderColor: '#ff2020', borderWidth: 1.2, pointRadius: 0, tension: 0.3, order: 2 },
            { type: 'line', data: pts(sma100), borderColor: '#2f63c4', borderWidth: 1.4, pointRadius: 0, tension: 0.3, order: 2 },
            { type: 'line', data: pts(sma200), borderColor: '#ff33ff', borderWidth: 1.4, pointRadius: 0, tension: 0.3, order: 2 },
            {
                data: ohlc.map((r, i) => ({ x: i + 0.5, y: [Math.min(r[0], r[3]), Math.max(r[0], r[3])] })),
                backgroundColor: ohlc.map(candleColor), barThickness: 4, minBarLength: 1,
                grouped: false, borderWidth: 0, order: 3
            },
            {
                data: ohlc.map((r, i) => ({ x: i + 0.5, y: [r[2], r[1]] })),
                backgroundColor: ohlc.map(candleColor), barThickness: 1,
                grouped: false, borderWidth: 0, order: 4
            }
        ]
    },
    options: {
        responsive: true, maintainAspectRatio: false,
        layout: { padding: { left: 0, right: 0, top: 0, bottom: 1 } },
        scales: {
            x: hiddenX,
            y: yAxis(0.98418, 1.00072, priceTicks, v => v.toFixed(4), '#e3e3e3')
        }
    },
    plugins: [paneFrame, mainExtras]
});

// ---- RSI ----
const lastX = rsi[rsi.length - 1][0];
new Chart(document.getElementById('cRsi'), {
    type: 'line',
    data: { datasets: [
        { data: pts(rsi), borderColor: '#2b47ff', borderWidth: 1, pointRadius: 0, tension: 0 }
    ] },
    options: {
        responsive: true, maintainAspectRatio: false,
        layout: { padding: { left: 0, right: 0, top: 0, bottom: 1 } },
        scales: { x: hiddenX, y: yAxis(0, 100.5, rsiTicks, v => v.toFixed(4), '#e3e3e3') }
    },
    plugins: [paneFrame, bands(70, 30, lastX, 'RSI (14,70,30,1)', 110, 3, '#2b47ff')]
});

// ---- FUSTO ----
new Chart(document.getElementById('cSto'), {
    type: 'line',
    data: { datasets: [
        { data: pts(stoD), borderColor: '#2b47ff', borderWidth: 1, pointRadius: 0, tension: 0.2 },
        { data: pts(stoK), borderColor: '#ff1a1a', borderWidth: 1, pointRadius: 0, tension: 0.2 }
    ] },
    options: {
        responsive: true, maintainAspectRatio: false,
        layout: { padding: { left: 0, right: 0, top: 0, bottom: 1 } },
        scales: { x: hiddenX, y: yAxis(0, 100, stoTicks, v => v.toFixed(4), 'rgba(0,0,0,0)') }
    },
    plugins: [paneFrame, bands(80, 20, stoK[stoK.length - 1][0], 'FUSTO (14,3,3,80,20)', 139, 3, '#ff1a1a', 50)]
});

// ---- MACD ----
const macdTag = {
    id: 'macdTag',
    afterDatasetsDraw(chart) {
        drawTag(chart.ctx, 5, 5, 110, 'MACD (12,26,9)', '#2b47ff', '11px ' + FONT, 11);
    }
};
new Chart(document.getElementById('cMacd'), {
    type: 'bar',
    data: { datasets: [
        { type: 'line', data: pts(macdLine), borderColor: '#2442ff', borderWidth: 1.2, pointRadius: 0, tension: 0.3, order: 0 },
        { type: 'line', data: pts(macdSignal), borderColor: '#ff7f2a', borderWidth: 1.5, pointRadius: 0, tension: 0.4, order: 1 },
        {
            data: macdHist.map((v, i) => ({ x: i + 0.5, y: v })),
            backgroundColor: macdHist.map(v => v >= 0 ? '#33e633' : '#ff1111'),
            barThickness: 4, borderWidth: 0, grouped: false, order: 2
        }
    ] },
    options: {
        responsive: true, maintainAspectRatio: false,
        layout: { padding: 0 },
        scales: {
            x: {
                type: 'linear', min: 0, max: X_MAX, position: 'bottom', offset: false,
                afterBuildTicks: s => { s.ticks = timeTicks.map(t => ({ value: t[0] })); },
                afterFit: s => { s.height = 26; s.paddingLeft = 0; s.paddingRight = 0; },
                ticks: { autoSkip: false, maxRotation: 0, color: '#555', font: { size: 11 }, padding: 3,
                         callback: (v, i) => timeTicks[i][1] },
                grid: { drawOnChartArea: false, offset: false, tickLength: 4, tickColor: '#b5b5b5' },
                border: { color: '#d3d9e6' }
            },
            y: yAxis(-0.00101, 0.00121, macdTicks, v => (v <= 0 ? '-' : '') + Math.abs(v).toFixed(4), '#e3e3e3')
        }
    },
    plugins: [paneFrame, macdTag]
});
</script>
</body>
</html>
